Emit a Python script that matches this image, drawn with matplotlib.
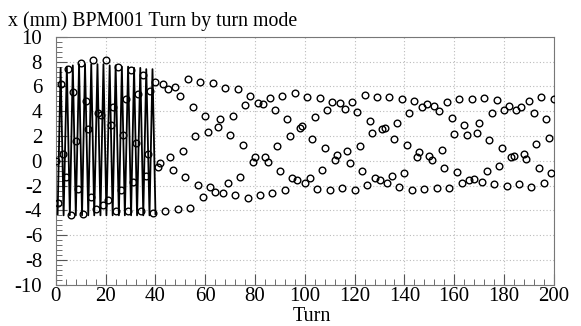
import matplotlib
matplotlib.use("Agg")
import matplotlib.pyplot as plt
from matplotlib.ticker import MultipleLocator
import numpy as np

# turn-by-turn x position (mm), turns 0..200
x_0_46 = [0.0, -3.39, 6.24, 0.51, -1.29, 7.42, -4.41, 5.54, 1.59, -2.26,
          7.88, -4.3, 4.79, 2.53, -2.9, 8.17, -3.87, 3.82, 3.66, -3.57,
          8.12, -3.2, 2.88, 4.35, -4.03, 7.58, -2.36, 2.05, 5.03, -4.03,
          7.37, -1.69, 1.45, 5.43, -4.03, 6.94, -1.23, 0.59, 5.65, -4.19,
          6.37, -0.48, -0.16, 6.24, -4.09, 5.76, 0.32]
x_47_97 = [-0.75, 5.97, -3.92, 5.22, 0.76, -1.34, 6.59, -3.81, 4.36, 1.99,
           -1.96, 6.37, -2.93, 3.63, 2.34, -2.12, 6.29, -2.52, 2.74, 3.36,
           -2.63, 5.89, -1.83, 2.07, 3.63, -2.79, 5.76, -1.34, 1.29, 4.49,
           -3.01, 5.22, -0.08, 0.32, 4.68, -2.77, 4.55, 0.32, -0.08, 5.08,
           -2.63, 4.14, 1.21, -0.83, 5.27, -2.39, 3.34, 1.99, -1.42, 5.46,
           -1.56]
x_98_150 = [2.64, 2.80, -1.83, 5.16, -1.42, 1.78, 3.50, -2.31, 5.11, -0.75,
            1.0, 4.09, -2.39, 4.73, 0.06, 0.48, 4.63, -2.18, 4.19, 0.81,
            -0.21, 4.73, -2.36, 3.95, 1.19, -0.83, 5.32, -1.96, 3.2, 2.21,
            -1.42, 5.16, -1.56, 2.56, 2.61, -1.77, 5.19, -1.23, 1.78, 3.07,
            -2.1, 5.0, -1.02, 1.27, 3.9, -2.36, 4.84, 0.32, 0.7, 4.36,
            -2.26, 4.55, 0.40]
x_151_200 = [0.06, 4.41, -2.23, 4.01, 0.84, -0.61, 4.76, -2.18, 3.44, 2.18,
             -0.94, 4.95, -1.77, 2.9, 2.05, -1.56, 4.95, -1.5, 2.23, 3.07,
             -1.74, 5.11, -0.83, 1.67, 3.82, -1.85, 4.9, -0.43, 1.02, 4.09,
             -2.07, 4.41, 0.27, 0.35, 4.14, -1.88, 4.33, 0.52, 0.14, 4.84,
             -2.15, 3.85, 1.32, -0.56, 5.16, -1.8, 3.39, 1.85, -0.97, 4.95]
x_mm = x_0_46 + x_47_97 + x_98_150 + x_151_200
turn = list(range(len(x_mm)))

line_turn = [0.7, 1.9, 3.1, 4.4, 5.6, 6.8, 8.0, 9.3, 10.5, 11.7, 13.0,
             14.2, 15.4, 16.7, 17.9, 19.1, 20.3, 21.6, 22.8, 24.0, 25.3,
             26.5, 27.7, 29.0, 30.2, 31.4, 32.6, 33.9, 35.1, 36.3, 37.6,
             38.8, 40.0]
line_x = [-4.3, 7.5, -4.4, 7.6, -4.4, 7.7, -4.4, 7.8, -4.4, 7.8, -4.4,
          7.8, -4.4, 7.8, -4.4, 7.8, -4.4, 7.7, -4.4, 7.7, -4.4,
          7.6, -4.4, 7.6, -4.4, 7.5, -4.4, 7.5, -4.4, 7.4, -4.4,
          7.4, -4.3]

plt.rcParams['font.family'] = ['Liberation Serif', 'DejaVu Serif']
plt.rcParams['axes.unicode_minus'] = False

fig = plt.figure(figsize=(5.81, 3.26), dpi=100)
ax = fig.add_axes([0.0962, 0.1267, 0.857, 0.760])

ax.plot(line_turn, line_x, color='black', lw=1.3, zorder=3)
ax.plot(turn, x_mm, linestyle='none', marker='o', markersize=4.8,
        markerfacecolor='none', markeredgecolor='black', markeredgewidth=1.0,
        zorder=4, clip_on=True)

ax.set_xlim(0, 200)
ax.set_ylim(-10, 10)
ax.xaxis.set_major_locator(MultipleLocator(20))
ax.xaxis.set_minor_locator(MultipleLocator(4))
ax.yaxis.set_major_locator(MultipleLocator(2))
ax.yaxis.set_minor_locator(MultipleLocator(0.4))
ax.tick_params(which='both', direction='in', colors='#555555',
               labelcolor='black', labelsize=15)
ax.tick_params(which='major', length=8, width=0.8)
ax.tick_params(which='minor', length=4, width=0.6)
ax.tick_params(axis='y', pad=10)
ax.tick_params(axis='x', pad=1.5)
ax.grid(True, which='major', linestyle=(0, (1, 2)), color='#bbbbbb', lw=0.8)
for s in ax.spines.values():
    s.set_color('#777777')
    s.set_linewidth(0.8)

fig.text(311.7/581, 0.3/326, 'Turn', fontsize=14.5,
         ha='center', va='bottom')
fig.text(0.014, 1 - 26/326, 'x (mm) BPM001 Turn by turn mode', fontsize=14.3,
         va='baseline', ha='left')

fig.savefig('out.png', dpi=100)
